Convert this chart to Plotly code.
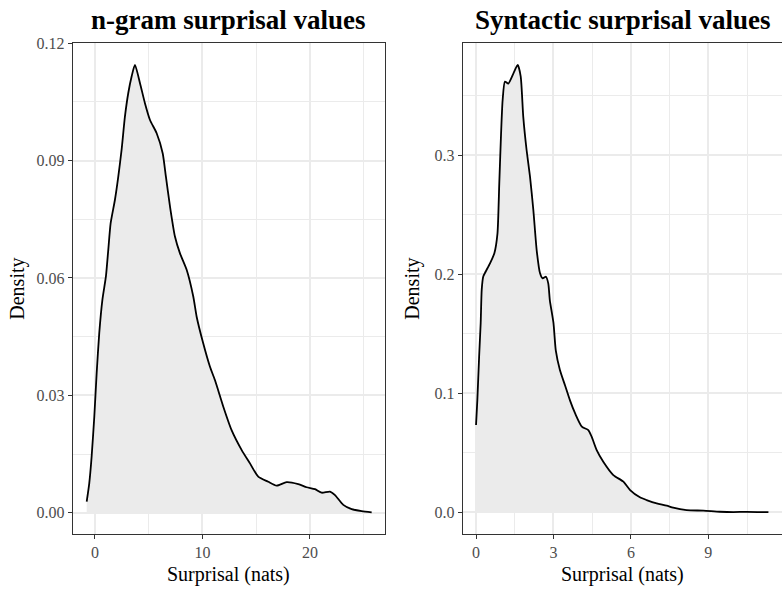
import plotly.graph_objects as go

W, H = 782, 589

# n-gram surprisal density
ngram_x = [-0.77, -0.53, -0.31, -0.06, 0.16, 0.4, 0.7, 1.02, 1.24, 1.46, 1.86, 2.17, 2.48,
           2.79, 3.1, 3.41, 3.72, 4.19, 4.65, 5.12, 5.74, 6.3, 6.6, 6.98, 7.44, 7.91, 8.53,
           9.15, 9.46, 10.07, 10.7, 11.16, 11.94, 12.71, 13.65, 14.42, 15.19, 16.12, 16.9,
           17.83, 18.91, 19.69, 20.47, 21.09, 21.86, 22.33, 23.1, 23.88, 24.81, 25.74]
ngram_y = [0.0028, 0.0075, 0.0143, 0.0246, 0.0357, 0.0459, 0.0546, 0.0604, 0.0672, 0.074,
           0.080, 0.0859, 0.0928, 0.1013, 0.1073, 0.1115, 0.1145, 0.1098, 0.1047, 0.1004,
           0.097, 0.0919, 0.0859, 0.0783, 0.0706, 0.0663, 0.0621, 0.0552, 0.0501, 0.0433,
           0.0373, 0.0339, 0.0271, 0.0211, 0.016, 0.0126, 0.0092, 0.0079, 0.0069, 0.0078,
           0.0073, 0.0065, 0.006, 0.0051, 0.0054, 0.0045, 0.002, 0.0009, 0.0004, 0.0001]

# Syntactic surprisal density
syn_x = [0.0, 0.05, 0.12, 0.18, 0.22, 0.28, 0.37, 0.54, 0.71, 0.83, 0.90, 0.97, 1.03, 1.12,
         1.25, 1.45, 1.615, 1.73, 1.83, 1.96, 2.09, 2.22, 2.35, 2.48, 2.58, 2.71, 2.80, 2.86,
         3.0, 3.09, 3.25, 3.45, 3.64, 3.84, 4.1, 4.35, 4.48, 4.68, 4.93, 5.32, 5.71, 5.97,
         6.35, 6.61, 7.0, 7.39, 7.64, 8.16, 8.81, 9.45, 9.97, 10.49, 11.33]
syn_y = [0.0733, 0.094, 0.131, 0.159, 0.187, 0.198, 0.202, 0.209, 0.2175, 0.234, 0.276, 0.318,
         0.346, 0.3616, 0.360, 0.3686, 0.3756, 0.366, 0.332, 0.304, 0.282, 0.254, 0.220,
         0.2007, 0.1965, 0.1978, 0.192, 0.178, 0.159, 0.136, 0.1195, 0.1065, 0.094, 0.083,
         0.0719, 0.069, 0.0635, 0.052, 0.0425, 0.0313, 0.0257, 0.0187, 0.0126, 0.0103,
         0.0075, 0.0056, 0.0039, 0.0019, 0.0014, 0.0005, 0.0002, 0.0004, 0.0001]

titles = ["n-gram surprisal values", "Syntactic surprisal values"]
x_label = "Surprisal (nats)"
y_label = "Density"

FONT = "Liberation Serif, Times New Roman, serif"
GRID = "#EBEBEB"
BORDER = "#333333"

fig = go.Figure()
fig.add_trace(go.Scatter(x=ngram_x, y=ngram_y, mode="lines", fill="tozeroy",
                         fillcolor="#EBEBEB", line=dict(color="black", width=1.8,
                         shape="spline", smoothing=0.6), xaxis="x", yaxis="y",
                         showlegend=False, hoverinfo="skip"))
fig.add_trace(go.Scatter(x=syn_x, y=syn_y, mode="lines", fill="tozeroy",
                         fillcolor="#EBEBEB", line=dict(color="black", width=1.8,
                         shape="spline", smoothing=0.6), xaxis="x2", yaxis="y2",
                         showlegend=False, hoverinfo="skip"))

def px(x):
    return x / W

def py(y):
    return 1 - y / H

ydom = [py(534), py(43.3)]

common = dict(showgrid=True, gridcolor=GRID, gridwidth=1.5, zeroline=False,
              automargin=False,
              ticks="outside", ticklen=4, tickwidth=1, tickcolor=BORDER,
              showline=True, linecolor=BORDER, linewidth=1,
              tickfont=dict(family=FONT, size=16, color="#4D4D4D"))

fig.update_layout(
    template="none",
    width=W, height=H, margin=dict(l=0, r=0, t=0, b=0, autoexpand=False),
    paper_bgcolor="white", plot_bgcolor="white",
    xaxis=dict(domain=[px(72.7), px(385)], range=[-2.07, 26.98], tickmode="array",
               tickvals=[0, 10, 20], ticktext=["0", "10", "20"], anchor="y", mirror=True,
               minor=dict(tickvals=[5, 15, 25], showgrid=True, gridcolor=GRID, gridwidth=1, ticks=""),
               **common),
    yaxis=dict(domain=ydom, range=[-0.00545, 0.1200], tickmode="array",
               tickvals=[0, 0.03, 0.06, 0.09, 0.12], ticktext=["0.00", "0.03", "0.06", "0.09", "0.12"],
               anchor="x", mirror=True,
               minor=dict(tickvals=[0.015, 0.045, 0.075, 0.105], showgrid=True, gridcolor=GRID, gridwidth=1, ticks=""),
               **common),
    xaxis2=dict(domain=[px(462.7), 1.0], range=[-0.517, 11.856], tickmode="array",
                tickvals=[0, 3, 6, 9], ticktext=["0", "3", "6", "9"], anchor="y2", mirror=True,
                minor=dict(tickvals=[1.5, 4.5, 7.5, 10.5], showgrid=True, gridcolor=GRID, gridwidth=1, ticks=""),
                **common),
    yaxis2=dict(domain=ydom, range=[-0.0182, 0.3938], tickmode="array",
                tickvals=[0, 0.1, 0.2, 0.3], ticktext=["0.0", "0.1", "0.2", "0.3"],
                anchor="x2", mirror=False,
                minor=dict(tickvals=[0.05, 0.15, 0.25, 0.35], showgrid=True, gridcolor=GRID, gridwidth=1, ticks=""),
                **common),
)

ann = []
for txt, cx in zip(titles, [228.8, 623.0]):
    ann.append(dict(text="<b>%s</b>" % txt, x=px(cx), y=py(20), xref="paper", yref="paper",
                    xanchor="center", yanchor="middle", showarrow=False,
                    font=dict(family=FONT, size=27, color="black")))
for cx in [228.5, 622.0]:
    ann.append(dict(text=x_label, x=px(cx), y=py(574), xref="paper", yref="paper",
                    xanchor="center", yanchor="middle", showarrow=False,
                    font=dict(family=FONT, size=20, color="black")))
for cx in [18, 413]:
    ann.append(dict(text=y_label, x=px(cx), y=py(288.7), xref="paper", yref="paper",
                    xanchor="center", yanchor="middle", showarrow=False, textangle=-90,
                    font=dict(family=FONT, size=20, color="black")))
fig.update_layout(annotations=ann)

fig.write_html("out.html")
